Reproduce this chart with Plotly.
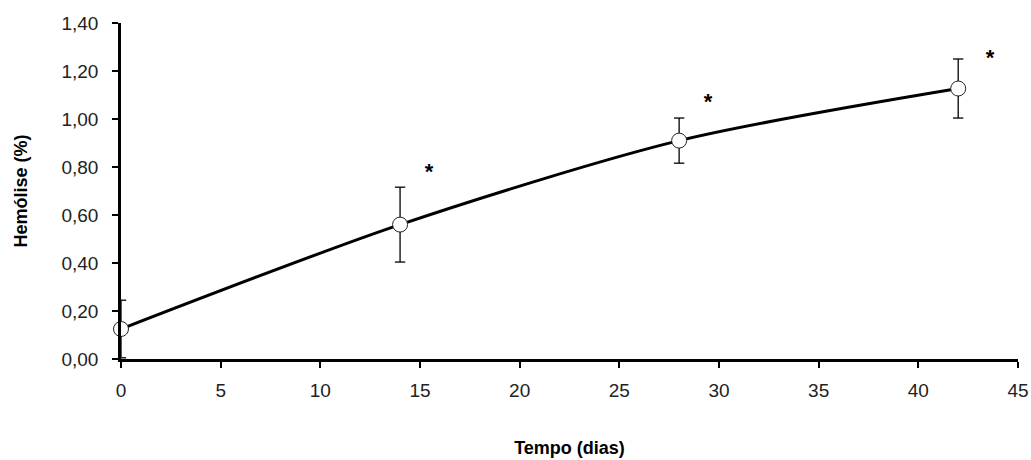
import plotly.graph_objects as go

dias = [0, 14, 28, 42]
hemolise = [0.125, 0.56, 0.91, 1.127]
erro = [0.12, 0.156, 0.094, 0.123]
ast_x = [15.45, 29.45, 43.6]
ast_y = [0.796, 1.088, 1.271]
y_ticks = [0, 0.2, 0.4, 0.6, 0.8, 1.0, 1.2, 1.4]
y_labels = ["0,00", "0,20", "0,40", "0,60", "0,80", "1,00", "1,20", "1,40"]
x_ticks = [0, 5, 10, 15, 20, 25, 30, 35, 40, 45]

CAP = 0.26  # half cap width in x data units

fig = go.Figure()
# error bars built from data arrays as clipped line segments
ex, ey = [], []
for xi, yi, ei in zip(dias, hemolise, erro):
    ex += [xi, xi, None, xi - CAP, xi + CAP, None, xi - CAP, xi + CAP, None]
    ey += [yi - ei, yi + ei, None, yi + ei, yi + ei, None, yi - ei, yi - ei, None]
fig.add_trace(go.Scatter(x=ex, y=ey, mode="lines",
                         line=dict(color="black", width=1.3),
                         showlegend=False, hoverinfo="skip"))
# smoothed line
fig.add_trace(go.Scatter(
    x=dias, y=hemolise, mode="lines",
    line=dict(color="black", width=3, shape="spline", smoothing=0.8),
    showlegend=False))
# markers
fig.add_trace(go.Scatter(
    x=dias, y=hemolise, mode="markers",
    marker=dict(size=15, color="white", line=dict(color="#222", width=1)),
    cliponaxis=False, showlegend=False))
# asterisks (visual centre shifted slightly since glyph sits high in the em box)
fig.add_trace(go.Scatter(
    x=ast_x, y=[v - 0.022 for v in ast_y], mode="text", text=["<b>*</b>"] * len(ast_x),
    textfont=dict(family="Liberation Sans", size=22, color="black"),
    cliponaxis=False, showlegend=False))

fig.update_layout(
    width=1031, height=460,
    margin=dict(l=121, r=13, t=23, b=101),
    plot_bgcolor="white", paper_bgcolor="white",
    font=dict(family="Liberation Sans", size=19, color="#222"),
    xaxis=dict(range=[0, 45], tickvals=x_ticks, showgrid=False, zeroline=False,
               showline=True, linecolor="black", linewidth=2.5,
               ticks="outside", ticklen=6, tickwidth=2, tickcolor="black",
               ticklabelstandoff=6, automargin=False,
               title=dict(text="<b>Tempo (dias)</b>", font=dict(size=18, color="black"), standoff=42)),
    yaxis=dict(range=[0, 1.4], tickvals=y_ticks, ticktext=y_labels, showgrid=False,
               zeroline=False, showline=True, linecolor="black", linewidth=2.5,
               ticks="outside", ticklen=6, tickwidth=2, tickcolor="black",
               ticklabelstandoff=10, automargin=False,
               title=dict(text="<b>Hemólise (%)</b>", font=dict(size=18, color="black"), standoff=30)),
)
fig.write_html("out.html")
